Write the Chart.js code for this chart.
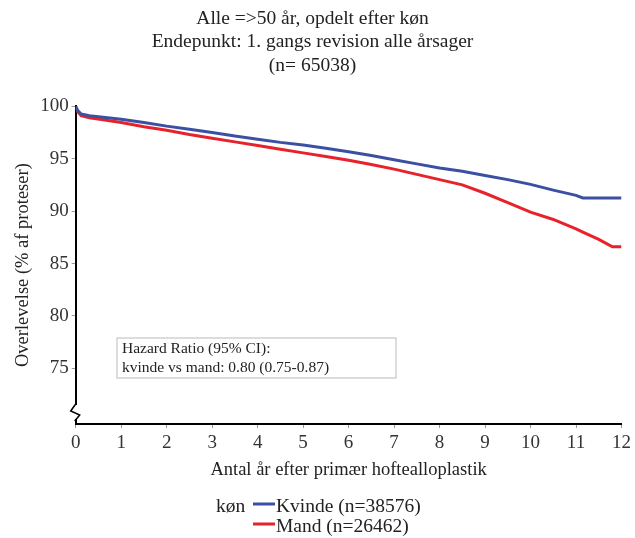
<!DOCTYPE html>
<html>
<head>
<meta charset="utf-8">
<script src="https://cdn.jsdelivr.net/npm/chart.js@4/dist/chart.umd.min.js"></script>
<style>
  html, body { margin: 0; padding: 0; background: #fff; }
  #wrap { width: 635px; height: 538px; }
</style>
</head>
<body>
<div id="wrap"><canvas id="kmChart" width="635" height="538"></canvas></div>
<script>
// years after primary hip replacement
const years = [0, 0.04, 0.12, 0.3, 0.6, 1, 1.5, 2, 2.5, 3, 3.5, 4, 4.5, 5, 5.5, 6, 6.5, 7, 7.5, 8, 8.5, 9, 9.5, 10, 10.5, 11, 11.15, 11.5, 11.8, 12];
// survival (%) per sex
const kvinde = [100, 99.6, 99.25, 99.1, 98.95, 98.75, 98.45, 98.1, 97.8, 97.5, 97.15, 96.85, 96.55, 96.3, 96.0, 95.65, 95.3, 94.9, 94.5, 94.1, 93.8, 93.4, 93.0, 92.55, 92.0, 91.5, 91.25, 91.25, 91.25, 91.25];
const mand = [100, 99.5, 99.1, 98.9, 98.7, 98.45, 98.05, 97.7, 97.3, 96.95, 96.6, 96.25, 95.9, 95.55, 95.2, 94.85, 94.45, 94.0, 93.5, 93.0, 92.5, 91.7, 90.8, 89.9, 89.2, 88.3, 88.0, 87.3, 86.6, 86.6];

const seriesLabels = ['Kvinde (n=38576)', 'Mand (n=26462)'];
const yTicks = [75, 80, 85, 90, 95, 100];
const titleLines = ['Alle =>50 år, opdelt efter køn', 'Endepunkt: 1. gangs revision alle årsager', '(n= 65038)'];
const hazardLines = ['Hazard Ratio (95% CI):', 'kvinde vs mand: 0.80 (0.75-0.87)'];

const serif = '"Liberation Serif", "DejaVu Serif", serif';
const blue = '#3b4fa3';
const red = '#e8222b';

function toPoints(ys) {
    return years.map((x, i) => ({ x: x, y: ys[i] }));
}

// hazard ratio box, axis break and the legend
const extras = {
    id: 'extras',
    afterDraw(chart) {
        const ctx = chart.ctx;
        const xs = chart.scales.x;
        const ys = chart.scales.y;
        ctx.save();

        // hazard box
        const bx = 117;
        const by = ys.getPixelForValue(77.9);
        ctx.strokeStyle = '#bbbbbb';
        ctx.lineWidth = 1;
        ctx.strokeRect(bx, by, 279, 40);
        ctx.fillStyle = '#222';
        ctx.font = '15.5px ' + serif;
        ctx.textBaseline = 'middle';
        ctx.textAlign = 'left';
        ctx.fillText(hazardLines[0], bx + 5, by + 11);
        ctx.fillText(hazardLines[1], bx + 5, by + 30);

        // axis break
        const ax = xs.left;
        const yb = ys.bottom;
        ctx.fillStyle = '#fff';
        ctx.fillRect(ax - 3, yb - 19, 6, 14);
        ctx.strokeStyle = '#000';
        ctx.lineWidth = 1.5;
        ctx.beginPath();
        ctx.moveTo(ax, yb - 20);
        ctx.lineTo(ax - 5, yb - 13);
        ctx.lineTo(ax + 4, yb - 9);
        ctx.lineTo(ax - 1, yb - 3);
        ctx.stroke();

        // legend
        const lx = 216;
        ctx.font = '19.5px ' + serif;
        ctx.fillStyle = '#222';
        ctx.fillText('køn', lx, 507);
        const colors = [blue, red];
        seriesLabels.forEach((lab, i) => {
            const yy = 506 + i * 20;
            ctx.strokeStyle = colors[i];
            ctx.lineWidth = 3;
            ctx.beginPath();
            ctx.moveTo(lx + 37, yy - 2);
            ctx.lineTo(lx + 59, yy - 2);
            ctx.stroke();
            ctx.fillStyle = '#222';
            ctx.fillText(lab, lx + 60, yy + 1);
        });
        ctx.restore();
    }
};

const ctx = document.getElementById('kmChart').getContext('2d');
new Chart(ctx, {
    type: 'line',
    data: {
        datasets: [
            { label: seriesLabels[0], data: toPoints(kvinde), borderColor: blue, borderWidth: 3, pointRadius: 0, tension: 0 },
            { label: seriesLabels[1], data: toPoints(mand), borderColor: red, borderWidth: 3, pointRadius: 0, tension: 0 }
        ]
    },
    options: {
        responsive: false,
        animation: false,
        layout: { padding: { left: 2, right: 12, top: 5, bottom: 53 } },
        plugins: {
            legend: { display: false },
            tooltip: { enabled: false },
            title: {
                display: true,
                text: titleLines,
                color: '#222',
                font: { family: serif, size: 19.5, weight: 'normal', lineHeight: 1.2 },
                padding: { top: 2, bottom: 29 }
            }
        },
        scales: {
            x: {
                type: 'linear',
                min: 0,
                max: 12,
                ticks: { stepSize: 1, color: '#333', font: { family: serif, size: 19 }, padding: 4 },
                grid: { drawOnChartArea: false, drawTicks: true, tickLength: 4, tickColor: '#999' },
                border: { color: '#000', width: 2 },
                title: { display: true, text: 'Antal år efter primær hoftealloplastik', color: '#222', font: { family: serif, size: 18.5 }, padding: { top: 0 } }
            },
            y: {
                min: 69.7,
                max: 100,
                afterBuildTicks: (axis) => { axis.ticks = yTicks.map(v => ({ value: v })); },
                ticks: { color: '#333', font: { family: serif, size: 19 }, padding: 3 },
                grid: { drawOnChartArea: false, drawTicks: true, tickLength: 4, tickColor: '#999' },
                border: { color: '#000', width: 2 },
                title: { display: true, text: 'Overlevelse (% af proteser)', color: '#222', font: { family: serif, size: 18.5 }, padding: { top: 10, bottom: 3 } }
            }
        }
    },
    plugins: [extras]
});
</script>
</body>
</html>
